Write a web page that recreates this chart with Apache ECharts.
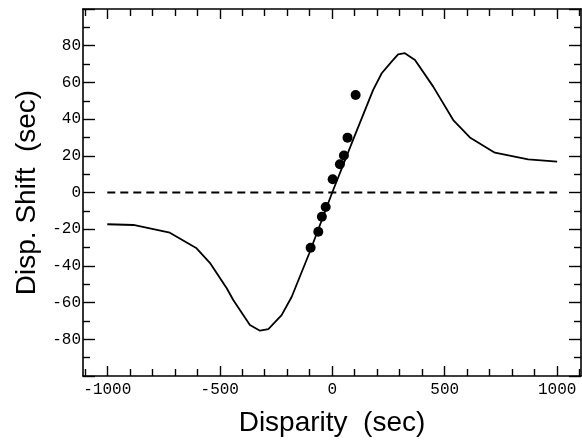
<!DOCTYPE html>
<html>
<head>
<meta charset="utf-8">
<script src="https://cdn.jsdelivr.net/npm/echarts@6/dist/echarts.min.js"></script>
<style>html,body{margin:0;padding:0;background:#fff}#c{width:582px;height:444px}</style>
</head>
<body>
<div id="c"></div>
<script>
// Model curve (Disparity vs Disp. Shift)
var curveX = [-1000, -884, -722, -603, -544, -469, -440, -366, -321, -284, -225, -180, -102, 0, 101, 182, 220, 264, 293, 323, 368, 449, 538, 612, 723, 871, 1000];
var curveY = [-17.3, -17.7, -21.9, -30.4, -38.3, -52.2, -58.6, -72.2, -75.3, -74.4, -66.8, -56.8, -33.1, 0, 31.3, 55.9, 65, 71.3, 75.3, 75.9, 72.2, 57.7, 39.5, 30, 21.7, 18.1, 16.8];
// Measured points
var dotX = [-96, -62, -46, -29, 2, 34, 52, 68, 104];
var dotY = [-30.1, -21.4, -13.2, -7.9, 7.2, 15.4, 20.2, 29.9, 53.1];
// Zero reference line
var zeroX = [-1000, 1000];
var zeroY = [0, 0];
// Tick labels
var xTickLabels = [-1000, -500, 0, 500, 1000];
var xMinorTicks = [-1100, -900, -800, -700, -600, -400, -300, -200, -100, 100, 200, 300, 400, 600, 700, 800, 900, 1100];
var yTickLabels = [-80, -60, -40, -20, 0, 20, 40, 60, 80];

var X_MIN = -1108, X_MAX = 1106, Y_MIN = -100, Y_MAX = 100;

function zip(a, b) { return a.map(function (v, i) { return [v, b[i]]; }); }

var black = '#000';
var tickFont = { color: black, fontFamily: 'Liberation Mono', fontSize: 16, formatter: function (v) { return String(v); } };

function xAx(pos, major, showLabel, name) {
  return {
    type: 'value', min: X_MIN, max: X_MAX, position: pos,
    axisLine: { show: major, onZero: false, lineStyle: { color: black, width: 1.6 } },
    axisTick: { show: true, inside: true, length: major ? 10 : 7, customValues: major ? xTickLabels : xMinorTicks, lineStyle: { color: black, width: 1.4 } },
    axisLabel: Object.assign({ show: showLabel, margin: 6, customValues: xTickLabels }, tickFont),
    splitLine: { show: false },
    name: name || '', nameLocation: 'middle', nameGap: 33,
    nameTextStyle: { fontFamily: 'Liberation Sans', fontSize: 28, color: black }
  };
}
function yAx(pos, showLabel, name) {
  return {
    type: 'value', min: Y_MIN, max: Y_MAX, interval: 20, position: pos,
    axisLine: { show: true, onZero: false, lineStyle: { color: black, width: 1.6 } },
    axisTick: { show: true, inside: true, length: 12, lineStyle: { color: black, width: 1.4 } },
    minorTick: { show: true, splitNumber: 2, length: 7, lineStyle: { color: black, width: 1.4 } },
    axisLabel: Object.assign({ show: showLabel, margin: 2, customValues: yTickLabels }, tickFont),
    splitLine: { show: false }, minorSplitLine: { show: false },
    name: name || '', nameLocation: 'middle', nameGap: 40, nameRotate: 90,
    nameTextStyle: { fontFamily: 'Liberation Sans', fontSize: 28, color: black }
  };
}

var chart = echarts.init(document.getElementById('c'), null, { renderer: 'canvas' });
chart.setOption({
  animation: false,
  backgroundColor: '#fff',
  grid: { left: 83, right: 1, top: 9, bottom: 68 },
  xAxis: [
    xAx('bottom', true, true, 'Disparity  (sec)'),
    xAx('bottom', false, false),
    xAx('top', true, false),
    xAx('top', false, false)
  ],
  yAxis: [
    yAx('left', true, 'Disp. Shift  (sec)'),
    yAx('right', false)
  ],
  series: [
    { type: 'line', data: zip(zeroX, zeroY), showSymbol: false, symbol: 'none',
      lineStyle: { color: black, width: 1.8, type: [8, 5] } },
    { type: 'line', data: zip(curveX, curveY), showSymbol: false, symbol: 'none',
      lineStyle: { color: black, width: 1.8 } },
    { type: 'scatter', data: zip(dotX, dotY), symbol: 'circle', symbolSize: 10,
      itemStyle: { color: black, opacity: 1 } }
  ]
});
</script>
</body>
</html>
